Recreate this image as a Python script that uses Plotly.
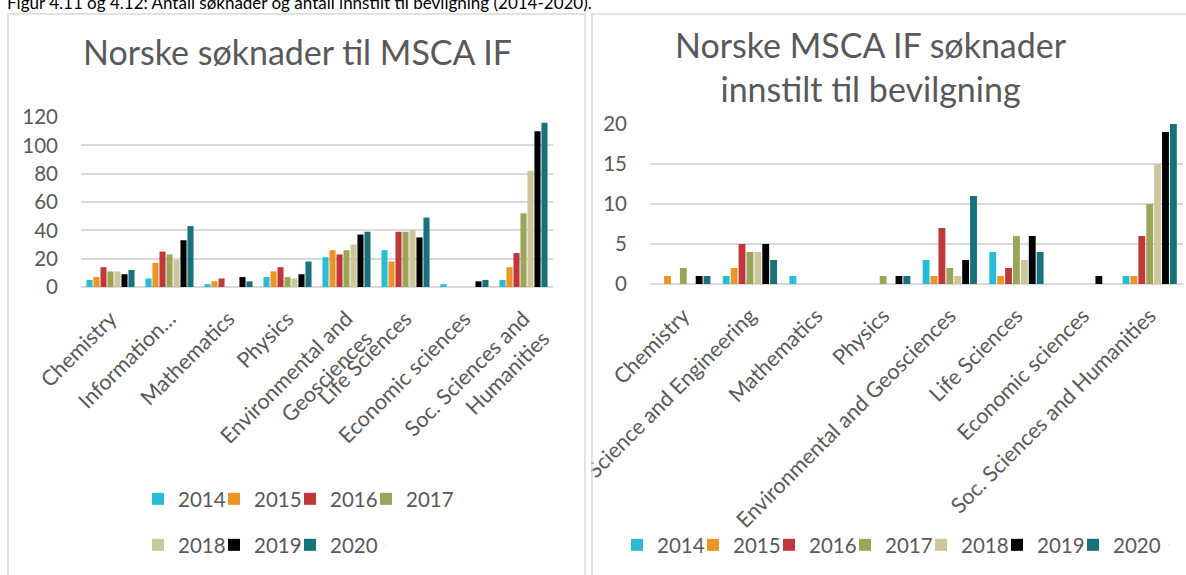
import plotly.graph_objects as go

W, H = 1186, 575

YEARS = ["2014", "2015", "2016", "2017", "2018", "2019", "2020"]
COLORS = ["#29BCD6", "#ED9427", "#C0383A", "#9AA55A", "#CCC69A", "#000000", "#17727E"]

CATS_LEFT = ["Chemistry", "Information…", "Mathematics", "Physics",
             "Environmental and<br>Geosciences", "Life Sciences",
             "Economic sciences", "Soc. Sciences and<br>Humanities"]
CATS_RIGHT = ["Chemistry", "Information Science and Engineering", "Mathematics", "Physics",
              "Environmental and Geosciences", "Life Sciences",
              "Economic sciences", "Soc. Sciences and Humanities"]

# søknader per år (rad = år, kolonne = fagområde)
SOKNADER = [
    [5, 6, 2, 7, 21, 26, 2, 5],        # 2014
    [7, 17, 4, 11, 26, 18, 0, 14],     # 2015
    [14, 25, 6, 14, 23, 39, 0, 24],    # 2016
    [11, 23, 0, 7, 26, 39, 0, 52],     # 2017
    [11, 19, 0, 6, 30, 40, 0, 82],     # 2018
    [9, 33, 7, 9, 37, 35, 4, 110],     # 2019
    [12, 43, 4, 18, 39, 49, 5, 116],   # 2020
]

# innstilt til bevilgning
INNSTILT = [
    [0, 1, 1, 0, 3, 4, 0, 1],          # 2014
    [1, 2, 0, 0, 1, 1, 0, 1],          # 2015
    [0, 5, 0, 0, 7, 2, 0, 6],          # 2016
    [2, 4, 0, 1, 2, 6, 0, 10],         # 2017
    [0, 4, 0, 0, 1, 3, 0, 15],         # 2018
    [1, 5, 0, 1, 3, 6, 1, 19],         # 2019
    [1, 3, 0, 1, 11, 4, 0, 20],        # 2020
]

CAPTION = "Figur 4.11 og 4.12: Antall søknader og antall innstilt til bevilgning (2014-2020)."
TITLE_LEFT = "Norske søknader til MSCA IF"
TITLE_RIGHT = "Norske MSCA IF søknader<br>innstilt til bevilgning"

GREY = "#595959"
GRID = "#D9D9D9"
FONT = "Lato"


def px(x):
    return x / W


def py(y):
    return 1 - y / H


fig = go.Figure()

for i, yr in enumerate(YEARS):
    fig.add_trace(go.Bar(
        x=CATS_LEFT, y=SOKNADER[i], name=yr,
        marker=dict(color=COLORS[i], line_width=0),
        xaxis="x", yaxis="y",
        legend="legend" if i < 4 else "legend2",
    ))
for i, yr in enumerate(YEARS):
    fig.add_trace(go.Bar(
        x=CATS_RIGHT, y=INNSTILT[i], name=yr,
        marker=dict(color=COLORS[i], line_width=0),
        xaxis="x2", yaxis="y2",
        legend="legend3",
    ))

# tomme plassholdere så siste legendetekst ikke klippes
for leg, ax, cats in [("legend", "", CATS_LEFT), ("legend2", "", CATS_LEFT), ("legend3", "2", CATS_RIGHT)]:
    fig.add_trace(go.Scatter(
        x=[cats[0]], y=[0], name=" ", mode="markers",
        marker=dict(opacity=0, size=1), hoverinfo="skip",
        xaxis="x" + ax, yaxis="y" + ax, legend=leg,
    ))

_xax = dict(
    type="category", tickangle=-45, showgrid=False, zeroline=False,
    showline=False, ticks="", tickfont=dict(size=21.5, color=GREY),
    ticklabelstandoff=14,
)
_yax = dict(
    showgrid=True, gridcolor=GRID, gridwidth=2, zeroline=True,
    zerolinecolor=GRID, zerolinewidth=2, showline=False, ticks="",
    tickfont=dict(size=20.5, color=GREY), ticklabelstandoff=22,
)
_leg = dict(
    orientation="h", bgcolor="rgba(0,0,0,0)", itemwidth=30, entrywidth=31,
    font=dict(size=20.5, color=GREY, family=FONT),
    xanchor="left", yanchor="middle", itemclick=False,
)

fig.update_layout(
    width=W, height=H,
    margin=dict(l=0, r=0, t=0, b=0, autoexpand=False),
    paper_bgcolor="white", plot_bgcolor="white",
    font=dict(family=FONT, color=GREY),
    barmode="group", bargap=0.17, bargroupgap=0.13,
    xaxis=dict(**_xax, domain=[px(81), px(553)], anchor="y"),
    yaxis=dict(**_yax, domain=[py(287), py(117)], range=[0, 120], dtick=20, anchor="x"),
    xaxis2=dict(**_xax, domain=[px(650), px(1183)], anchor="y2"),
    yaxis2=dict(**_yax, domain=[py(284), py(124)], range=[0, 20], dtick=5, anchor="x2"),
    legend=dict(**_leg, x=px(138), y=py(499)),
    legend2=dict(**_leg, x=px(138), y=py(545)),
    legend3=dict(**_leg, x=px(617), y=py(545)),
    showlegend=True,
    annotations=[
        dict(text=CAPTION, xref="paper", yref="paper", x=px(5), y=py(2),
             xanchor="left", yanchor="middle", showarrow=False,
             font=dict(size=17, color="black", family=FONT)),
        dict(text=TITLE_LEFT, xref="paper", yref="paper", x=px(297), y=py(52),
             xanchor="center", yanchor="middle", showarrow=False,
             font=dict(size=34, color=GREY, family=FONT)),
        dict(text=TITLE_RIGHT, xref="paper", yref="paper", x=px(871), y=py(67),
             xanchor="center", yanchor="middle", showarrow=False,
             font=dict(size=34, color=GREY, family=FONT)),
    ],
    shapes=[
        # skjul det som stikker ut av høyre diagram
        dict(type="rect", xref="paper", yref="paper", layer="above",
             x0=px(500), x1=px(591), y0=py(575), y1=py(440),
             fillcolor="white", line_width=0),
        dict(type="rect", xref="paper", yref="paper", layer="above",
             x0=px(8), x1=px(585), y0=py(590), y1=py(14),
             fillcolor="rgba(0,0,0,0)", line=dict(color=GRID, width=1.5)),
        dict(type="rect", xref="paper", yref="paper", layer="above",
             x0=px(592), x1=px(1200), y0=py(590), y1=py(14),
             fillcolor="rgba(0,0,0,0)", line=dict(color=GRID, width=1.5)),
    ],
)

fig.write_html("out.html", config={"displayModeBar": False},
               post_script="document.body.style.margin='0';")
